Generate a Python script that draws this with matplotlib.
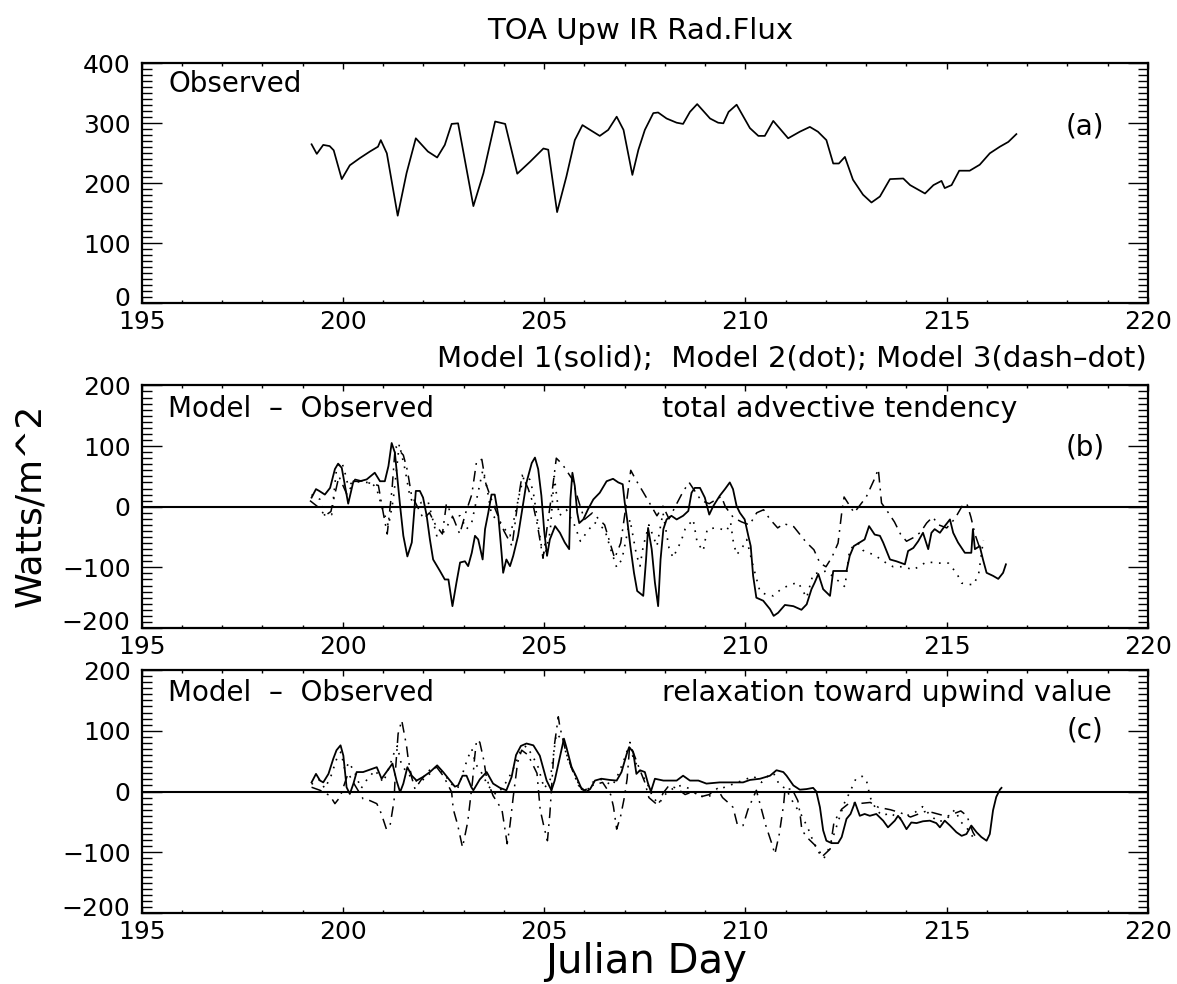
import matplotlib
matplotlib.use("Agg")
import matplotlib.pyplot as plt
import matplotlib.transforms as mtransforms
from matplotlib.ticker import MultipleLocator

# ---------------- data ----------------
obs_days = [199.22, 199.35, 199.51, 199.67, 199.77, 199.97, 200.17, 200.42, 200.67, 200.87, 200.94, 201.09,
            201.36, 201.58, 201.81, 202.11, 202.34, 202.53, 202.70, 202.86, 203.24, 203.49, 203.78, 204.03,
            204.33, 204.65, 204.98, 205.10, 205.32, 205.55, 205.76, 205.95, 206.14, 206.38, 206.59, 206.80,
            206.97, 207.19, 207.34, 207.50, 207.71, 207.83, 208.04, 208.29, 208.45, 208.62, 208.80, 209.12,
            209.32, 209.45, 209.58, 209.78, 210.11, 210.32, 210.48, 210.69, 211.06, 211.35, 211.60, 211.80,
            212.01, 212.18, 212.32, 212.47, 212.67, 212.92, 213.13, 213.34, 213.59, 213.92, 214.09, 214.46,
            214.67, 214.87, 214.95, 215.12, 215.31, 215.57, 215.82, 216.07, 216.32, 216.53, 216.73]
obs_flux = [265, 249, 264, 262, 255, 207, 230, 242, 253, 261, 272, 250,
            146, 217, 275, 253, 243, 264, 299, 300, 162, 217, 303, 299,
            216, 236, 258, 256, 152, 211, 272, 297, 289, 279, 289, 311,
            289, 214, 256, 289, 317, 318, 308, 301, 299, 319, 332, 308,
            301, 300, 319, 331, 292, 279, 279, 304, 275, 286, 294, 286,
            272, 233, 233, 244, 206, 181, 168, 178, 207, 208, 197, 183,
            197, 204, 192, 197, 221, 221, 231, 250, 261, 269, 282]

# panel (b): total advective tendency, Model - Observed
b_m1_days = [199.22, 199.33, 199.41, 199.55, 199.68, 199.80, 199.88, 199.97, 200.05, 200.13, 200.26, 200.42,
             200.59, 200.79, 200.92, 201.04, 201.13, 201.21, 201.29, 201.37, 201.42, 201.50, 201.60, 201.71,
             201.81, 201.91, 201.99, 202.08, 202.16, 202.24, 202.41, 202.53, 202.62, 202.72, 202.82, 202.91,
             203.03, 203.11, 203.20, 203.28, 203.36, 203.47, 203.53, 203.61, 203.69, 203.77, 203.86, 203.94,
             203.98, 204.06, 204.15, 204.23, 204.35, 204.44, 204.56, 204.69, 204.77, 204.85, 204.93, 205.00,
             205.07, 205.14, 205.27, 205.39, 205.51, 205.62, 205.65, 205.70, 205.76, 205.82, 205.87, 205.97,
             206.09, 206.22, 206.38, 206.55, 206.71, 206.84, 206.95, 207.00, 207.06, 207.14, 207.23, 207.31,
             207.46, 207.53, 207.58, 207.67, 207.75, 207.83, 207.89, 207.96, 208.04, 208.16, 208.29, 208.45,
             208.58, 208.66, 208.74, 208.87, 208.99, 209.10, 209.20, 209.36, 209.49, 209.61, 209.69, 209.78,
             209.86, 209.98, 210.07, 210.13, 210.19, 210.27, 210.44, 210.61, 210.70, 210.81, 210.98, 211.19,
             211.39, 211.52, 211.64, 211.72, 211.81, 211.93, 212.10, 212.18, 212.34, 212.51, 212.59, 212.69,
             212.84, 212.96, 213.07, 213.21, 213.34, 213.42, 213.59, 213.75, 213.96, 214.04, 214.17, 214.29,
             214.41, 214.54, 214.62, 214.70, 214.83, 214.95, 215.08, 215.16, 215.28, 215.45, 215.61, 215.65,
             215.70, 215.82, 215.90, 215.99, 216.15, 216.28, 216.40, 216.47]
b_m1_vals = [15, 29, 26, 20, 31, 62, 71, 64, 34, 5, 42, 42,
             45, 56, 42, 42, 67, 105, 89, 34, 1, -48, -82, -59,
             26, 26, 15, -15, -54, -87, -106, -120, -120, -164, -125, -92,
             -90, -98, -76, -48, -54, -87, -37, -10, 20, 20, -15, -76,
             -109, -87, -98, -81, -48, -10, 40, 72, 81, 62, 18, -40,
             -81, -54, -32, -43, -59, -70, 12, 56, 34, -10, -27, -21,
             -4, 12, 23, 42, 46, 40, 37, 7, -21, -65, -109, -139,
             -147, -87, -35, -70, -125, -164, -87, -37, -21, -15, -21, -15,
             -7, 23, 31, 31, 15, -13, 1, 18, 29, 40, 29, 1,
             -10, -21, -48, -65, -114, -150, -155, -169, -180, -175, -162, -164,
             -170, -161, -136, -125, -111, -136, -147, -106, -106, -106, -81, -65,
             -59, -54, -32, -46, -48, -59, -87, -90, -95, -73, -68, -57,
             -43, -70, -43, -37, -43, -32, -21, -43, -59, -76, -76, -37,
             -70, -65, -87, -109, -114, -119, -109, -95]

b_m2_days = [199.22, 199.43, 199.55, 199.72, 199.84, 199.97, 200.05, 200.13, 200.26, 200.50, 200.71, 200.84,
             200.96, 201.13, 201.25, 201.40, 201.54, 201.66, 201.79, 201.95, 202.12, 202.20, 202.33, 202.49,
             202.74, 202.91, 203.07, 203.20, 203.32, 203.47, 203.57, 203.69, 203.82, 204.02, 204.15, 204.27,
             204.40, 204.50, 204.64, 204.73, 204.83, 204.93, 205.02, 205.15, 205.25, 205.37, 205.55, 205.75,
             205.90, 206.08, 206.25, 206.50, 206.65, 206.80, 206.93, 207.00, 207.13, 207.29, 207.38, 207.46,
             207.60, 207.80, 207.95, 208.10, 208.20, 208.40, 208.50, 208.70, 208.80, 208.95, 209.05, 209.24,
             209.40, 209.53, 209.63, 209.70, 209.78, 209.86, 209.94, 210.03, 210.19, 210.36, 210.52, 210.69,
             210.90, 211.14, 211.31, 211.52, 211.68, 212.01, 212.30, 212.47, 212.59, 212.80, 212.92, 213.21,
             213.50, 213.67, 213.92, 214.17, 214.50, 214.79, 215.04, 215.25, 215.37, 215.66, 215.79, 215.91]
b_m2_vals = [20, 12, -15, -13, 62, 74, 56, 34, 42, 40, 40, 29,
             1, -32, 12, 103, 62, 18, -2, 7, 7, -13, -48, -43,
             -15, -15, -37, -26, 12, 59, 34, -13, -21, -37, -48, -15,
             26, 50, 45, 23, -21, -65, -81, -40, 50, -15, -5, -30,
             -57, -40, -26, -37, -70, -100, -87, -65, -21, -79, -98, -65,
             -30, -65, -10, -68, -84, -57, -37, -21, -59, -73, -37, -35,
             -37, -40, -26, -59, -79, -73, -65, -54, -98, -140, -145, -147,
             -135, -128, -125, -150, -111, -106, -122, -132, -70, -60, -72, -80,
             -93, -99, -99, -104, -91, -93, -93, -110, -126, -129, -112, -55]

b_m3_days = [199.18, 199.43, 199.55, 199.70, 199.90, 200.10, 200.30, 200.60, 200.88, 201.00, 201.10, 201.22,
             201.30, 201.50, 201.60, 201.70, 201.85, 202.00, 202.15, 202.30, 202.47, 202.57, 202.75, 202.90,
             203.05, 203.20, 203.32, 203.45, 203.55, 203.70, 203.85, 204.00, 204.20, 204.35, 204.45, 204.60,
             204.70, 204.83, 204.97, 205.10, 205.20, 205.30, 205.45, 205.70, 205.85, 206.00, 206.20, 206.50,
             206.75, 206.90, 207.05, 207.15, 207.27, 207.45, 207.60, 207.80, 207.95, 208.10, 208.30, 208.45,
             208.60, 208.75, 208.90, 209.10, 209.40, 209.50, 209.70, 209.90, 210.10, 210.28, 210.45, 210.60,
             210.80, 210.95, 211.20, 211.50, 211.70, 211.85, 212.00, 212.15, 212.30, 212.40, 212.45, 212.70,
             213.00, 213.20, 213.30, 213.38, 213.55, 213.70, 213.85, 214.00, 214.20, 214.35, 214.50, 214.65,
             214.80, 215.00, 215.20, 215.40, 215.50, 215.60, 215.70, 215.83]
b_m3_vals = [10, -3, -15, -8, 50, 20, 45, 40, 35, -10, -45, 30,
             100, 85, 60, 20, 0, -20, -10, -30, -45, 5, -20, -45,
             -10, 20, 75, 78, 38, 10, -15, -40, -65, 10, 52, 30,
             10, -30, -85, -20, 27, 80, 70, 45, 10, -21, -10, -30,
             -85, -60, 10, 60, 45, 25, 8, -15, 1, -20, 6, 25,
             40, 25, 10, 5, 17, 0, -18, -25, -30, -10, -5, -20,
             -35, -28, -33, -58, -71, -93, -99, -83, -60, -5, 16, -10,
             16, 45, 62, 6, -10, -25, -45, -57, -50, -42, -27, -17,
             -30, -35, -20, 3, 5, -17, -45, -70]

# panel (c): relaxation toward upwind value, Model - Observed
c_m1_days = [199.22, 199.33, 199.43, 199.51, 199.64, 199.76, 199.84, 199.94, 200.01, 200.09, 200.17, 200.26,
             200.34, 200.50, 200.67, 200.84, 200.96, 201.08, 201.23, 201.33, 201.42, 201.50, 201.60, 201.71,
             201.83, 201.99, 202.16, 202.34, 202.49, 202.66, 202.78, 202.86, 202.97, 203.07, 203.19, 203.24,
             203.40, 203.57, 203.73, 203.90, 204.06, 204.19, 204.30, 204.42, 204.56, 204.73, 204.89, 204.97,
             205.06, 205.18, 205.26, 205.39, 205.49, 205.55, 205.68, 205.80, 205.93, 206.05, 206.14, 206.26,
             206.42, 206.63, 206.80, 206.92, 207.05, 207.11, 207.21, 207.29, 207.38, 207.50, 207.58, 207.65,
             207.75, 207.96, 208.12, 208.29, 208.45, 208.62, 208.83, 209.03, 209.36, 209.69, 209.94, 210.11,
             210.36, 210.61, 210.77, 210.94, 211.02, 211.19, 211.35, 211.52, 211.68, 211.76, 211.85, 211.93,
             212.01, 212.14, 212.30, 212.39, 212.51, 212.61, 212.72, 212.84, 212.96, 213.09, 213.25, 213.42,
             213.54, 213.71, 213.79, 213.88, 214.00, 214.12, 214.25, 214.41, 214.58, 214.74, 214.83, 214.95,
             215.08, 215.24, 215.37, 215.49, 215.61, 215.74, 215.86, 215.99, 216.07, 216.15, 216.23, 216.32,
             216.36]
c_m1_vals = [15, 29, 18, 15, 29, 54, 68, 76, 59, 7, -4, 13,
             32, 32, 36, 40, 21, 32, 46, 18, -1, 13, 40, 26,
             18, 24, 32, 43, 32, 18, 8, 10, 26, 26, 7, 2,
             20, 32, 13, 6, 2, 24, 60, 75, 79, 76, 59, 40,
             18, 2, 18, 57, 87, 73, 40, 24, 4, 0, 4, 18,
             21, 19, 18, 32, 62, 73, 65, 29, 35, 32, 13, 0,
             21, 18, 18, 18, 26, 18, 18, 13, 15, 15, 15, 19,
             21, 26, 35, 32, 26, 10, 3, 4, 6, 0, -26, -64,
             -81, -85, -85, -75, -45, -37, -18, -40, -37, -40, -37, -48,
             -59, -48, -40, -48, -62, -51, -52, -49, -48, -52, -59, -48,
             -56, -67, -73, -70, -56, -67, -75, -81, -70, -31, -9, 3,
             6]

c_m2_days = [199.22, 199.40, 199.55, 199.70, 199.85, 199.95, 200.05, 200.15, 200.30, 200.45, 200.60, 200.80,
             201.00, 201.15, 201.25, 201.35, 201.45, 201.60, 201.75, 201.90, 202.10, 202.30, 202.50, 202.70,
             202.85, 203.00, 203.10, 203.20, 203.30, 203.45, 203.60, 203.80, 203.95, 204.10, 204.25, 204.40,
             204.55, 204.70, 204.85, 205.00, 205.15, 205.30, 205.45, 205.60, 205.75, 205.90, 206.05, 206.20,
             206.40, 206.55, 206.70, 206.85, 207.00, 207.10, 207.25, 207.40, 207.55, 207.70, 207.85, 208.00,
             208.20, 208.40, 208.60, 208.80, 209.00, 209.20, 209.40, 209.60, 209.80, 210.00, 210.20, 210.40,
             210.55, 210.70, 210.85, 211.00, 211.20, 211.40, 211.55, 211.70, 211.85, 211.95, 212.10, 212.30,
             212.45, 212.60, 212.75, 212.90, 213.00, 213.10, 213.25, 213.40, 213.60, 213.80, 214.00, 214.20,
             214.40, 214.60, 214.80, 215.00, 215.20, 215.35, 215.50, 215.65, 215.80]
c_m2_vals = [12, 20, 5, 25, 55, 65, 35, 48, 30, 5, 20, 35,
             15, 40, 60, 75, 45, 30, 20, 15, 25, 40, 30, 12,
             5, 35, 55, 70, 45, 30, 10, -5, 5, 20, 40, 65,
             75, 60, 40, 5, 20, 95, 85, 50, 30, 5, 0, 15,
             20, 15, 10, 30, 55, 75, 50, 30, 15, -10, -20, -5,
             5, 10, 5, -5, -10, -5, 5, 10, 15, 20, 25, 15,
             25, 30, 10, 5, -20, -40, -60, -85, -100, -110, -90, -50,
             -20, 0, 22, 25, 20, -10, -30, -40, -35, -45, -40, -35,
             -25, -40, -50, -45, -30, -50, -60, -75, -70]

c_m3_days = [199.22, 199.43, 199.68, 199.80, 199.93, 200.05, 200.13, 200.30, 200.50, 200.67, 200.84, 200.92,
             200.98, 201.08, 201.17, 201.27, 201.30, 201.37, 201.46, 201.58, 201.62, 201.70, 201.79, 201.95,
             202.15, 202.33, 202.50, 202.70, 202.74, 202.85, 202.97, 203.10, 203.22, 203.27, 203.32, 203.40,
             203.50, 203.57, 203.73, 203.95, 204.08, 204.15, 204.23, 204.34, 204.44, 204.60, 204.82, 204.90,
             205.00, 205.08, 205.14, 205.25, 205.35, 205.39, 205.55, 205.70, 205.85, 206.00, 206.20, 206.45,
             206.65, 206.72, 206.80, 206.90, 206.99, 207.06, 207.13, 207.19, 207.38, 207.50, 207.60, 207.83,
             207.95, 208.10, 208.30, 208.50, 208.70, 208.87, 209.10, 209.30, 209.43, 209.60, 209.69, 209.80,
             209.94, 210.06, 210.27, 210.36, 210.50, 210.65, 210.73, 210.84, 210.95, 210.98, 211.15, 211.30,
             211.35, 211.40, 211.52, 211.72, 211.89, 212.10, 212.20, 212.39, 212.60, 212.80, 213.10, 213.30,
             213.60, 213.85, 214.10, 214.50, 215.00, 215.35, 215.50, 215.65, 215.72]
c_m3_vals = [7, 2, -7, -20, -9, 15, 30, 10, -12, -15, -20, -31,
             -42, -62, -56, -15, 30, 95, 117, 75, 54, 25, 4, 20,
             35, 40, 25, -1, -29, -55, -92, -50, 18, 55, 85, 81,
             51, 21, -7, -30, -86, -55, -9, 48, 68, 60, 30, -30,
             -60, -81, -37, 75, 123, 106, 62, 35, 10, 2, 10, 15,
             -5, -25, -62, -40, -10, 21, 81, 68, 35, 15, -10, -23,
             -3, 10, 5, -5, 0, -9, -5, 5, -10, -20, -26, -55,
             -56, -30, 2, -20, -55, -85, -103, -70, -20, 2, 5, -15,
             -34, -63, -75, -88, -108, -95, -50, -29, -18, -20, -18, -26,
             -30, -35, -42, -32, -41, -32, -40, -67, -75]

x_ticks = [195, 200, 205, 210, 215, 220]
yticks_a = [0, 100, 200, 300, 400]
yticks_bc = [-200, -100, 0, 100, 200]

# ---------------- layout ----------------
W, H = 1177, 984
fig = plt.figure(figsize=(W / 100, H / 100), dpi=100)
plt.rcParams['font.family'] = ['DejaVu Sans']


def fx(px):
    return px / W


def fy(py):
    return 1 - py / H


def make_axes(top_px, bot_px):
    left, right = 141.7, 1148
    return fig.add_axes([fx(left), fy(bot_px), (right - left) / W, (bot_px - top_px) / H])


ax_a = make_axes(63.3, 303.3)
ax_b = make_axes(385.4, 628.0)
ax_c = make_axes(670.0, 913.0)

solid_kw = dict(color='black', lw=1.3, linestyle='-')
dot_kw = dict(color='black', lw=1.2, linestyle=(0, (1, 4)))
dashdot_kw = dict(color='black', lw=1.1, linestyle=(0, (7, 4, 1.2, 4)))

ax_a.plot(obs_days, obs_flux, color='black', lw=1.25)

ax_b.axhline(0, color='black', lw=1.5)
ax_b.plot(b_m1_days, b_m1_vals, **solid_kw)
ax_b.plot(b_m2_days, b_m2_vals, **dot_kw)
ax_b.plot(b_m3_days, b_m3_vals, **dashdot_kw)

ax_c.axhline(0, color='black', lw=1.5)
ax_c.plot(c_m1_days, c_m1_vals, **solid_kw)
ax_c.plot(c_m2_days, c_m2_vals, **dot_kw)
ax_c.plot(c_m3_days, c_m3_vals, **dashdot_kw)

shift_up = mtransforms.ScaledTranslation(0, 7 / 100, fig.dpi_scale_trans)

for ax, yt in ((ax_a, yticks_a), (ax_b, yticks_bc), (ax_c, yticks_bc)):
    ax.set_xlim(195, 220)
    ax.set_ylim(yt[0], yt[-1])
    ax.set_xticks(x_ticks)
    ax.set_yticks(yt)
    ax.xaxis.set_minor_locator(MultipleLocator(1))
    ax.yaxis.set_minor_locator(MultipleLocator(10))
    for s in ax.spines.values():
        s.set_linewidth(1.6)
    ax.tick_params(which='both', direction='in', top=True, right=True, width=1.0,
                   labelsize=18, colors='black')
    ax.tick_params(axis='x', which='major', length=4.0, pad=5)
    ax.tick_params(axis='x', which='minor', length=2.0)
    ax.tick_params(axis='y', which='major', length=14.4, pad=8)
    ax.tick_params(axis='y', which='minor', length=7.2)
    # bottom y label sits slightly above the axis corner (as in the original)
    lbl = ax.yaxis.get_major_ticks()[0].label1
    lbl.set_transform(lbl.get_transform() + shift_up)

# ---------------- text ----------------
fig.text(fx(640), fy(31), "TOA Upw IR Rad.Flux", ha='center', va='center', fontsize=21)
fig.text(fx(168), fy(84), "Observed", ha='left', va='center', fontsize=20)
fig.text(fx(1085), fy(127), "(a)", ha='center', va='center', fontsize=20)

fig.text(fx(1147), fy(358), "Model 1(solid);  Model 2(dot); Model 3(dash\u2013dot)",
         ha='right', va='center', fontsize=21)
fig.text(fx(168), fy(409), "Model  \u2013  Observed", ha='left', va='center', fontsize=20)
fig.text(fx(662), fy(409), "total advective tendency", ha='left', va='center', fontsize=20.5)
fig.text(fx(1085), fy(447), "(b)", ha='center', va='center', fontsize=20)

fig.text(fx(168), fy(693), "Model  \u2013  Observed", ha='left', va='center', fontsize=20)
fig.text(fx(662), fy(693), "relaxation toward upwind value", ha='left', va='center', fontsize=20.5)
fig.text(fx(1085), fy(731), "(c)", ha='center', va='center', fontsize=20)

fig.text(fx(30), fy(505), "Watts/m^2", ha='center', va='center', rotation=90, fontsize=26)
fig.text(fx(646), fy(962), "Julian Day", ha='center', va='center', fontsize=29)

fig.savefig("out.png", dpi=100, facecolor='white')
